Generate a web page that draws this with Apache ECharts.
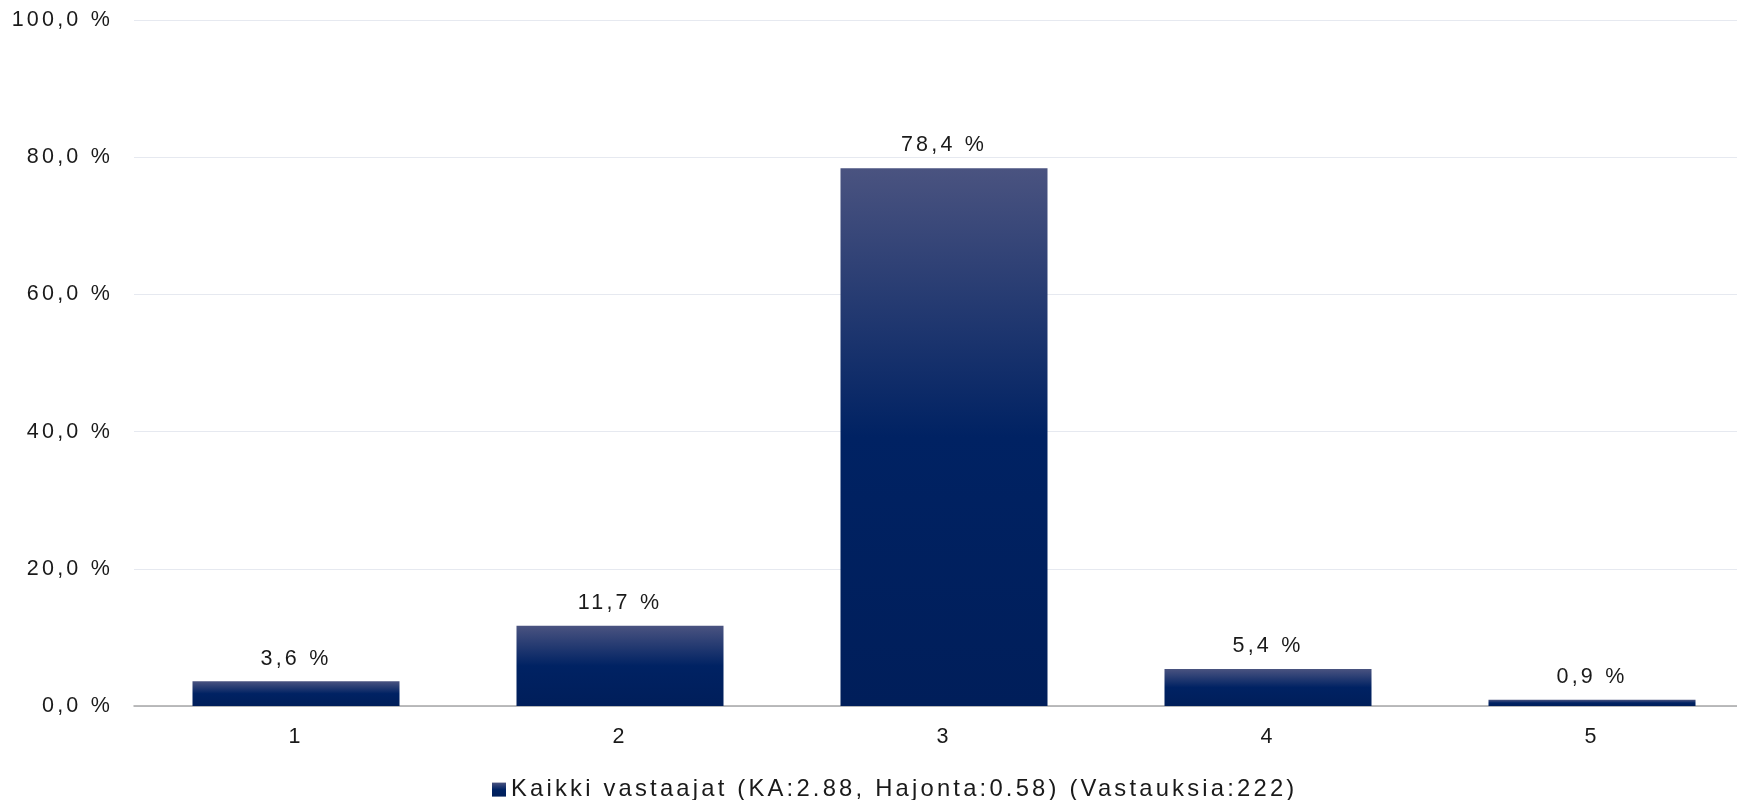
<!DOCTYPE html>
<html>
<head>
<meta charset="utf-8">
<script src="https://cdn.jsdelivr.net/npm/echarts@6/dist/echarts.min.js"></script>
<style>
html,body{margin:0;padding:0;background:#fff;}
#chart{width:1737px;height:800px;}
</style>
</head>
<body>
<div id="chart"></div>
<script>
// letter spacing for canvas text (applied consistently to measuring and drawing)
(function(){
  var P = CanvasRenderingContext2D.prototype;
  var LS = '3.2px';
  var of = P.fillText, om = P.measureText;
  P.fillText = function(){ try{ this.letterSpacing = LS; }catch(e){} return of.apply(this, arguments); };
  P.measureText = function(){ try{ this.letterSpacing = LS; }catch(e){} return om.apply(this, arguments); };
})();

var categories = ['1', '2', '3', '4', '5'];
var values = [3.6, 11.7, 78.4, 5.4, 0.9];
var seriesName = 'Kaikki vastaajat (KA:2.88, Hajonta:0.58) (Vastauksia:222)';
var yTicks = [0, 20, 40, 60, 80, 100];

function fmt(v){ return v.toFixed(1).replace('.', ',') + ' %'; }

var FONT = 'Liberation Sans';
var chart = echarts.init(document.getElementById('chart'), null, {renderer:'canvas'});
chart.setOption({
  animation: false,
  backgroundColor: '#ffffff',
  textStyle: { fontFamily: FONT },
  legend: {
    data: [seriesName],
    left: 487,
    top: 771,
    itemWidth: 14,
    itemHeight: 14,
    itemGap: 10,
    icon: 'rect',
    textStyle: { fontFamily: FONT, fontSize: 23.8, color: '#1a1a1a' }
  },
  grid: { left: 134, width: 1620, top: 20, bottom: 94, containLabel: false, outerBoundsMode: 'none' },
  xAxis: {
    type: 'category',
    data: categories,
    axisTick: { show: false },
    axisLine: { lineStyle: { color: '#a6a6a6', width: 1.5 } },
    axisLabel: { fontFamily: FONT, fontSize: 21.5, color: '#1a1a1a', margin: 18 }
  },
  yAxis: {
    type: 'value',
    min: yTicks[0],
    max: yTicks[yTicks.length - 1],
    interval: yTicks[1] - yTicks[0],
    axisLine: { show: false },
    axisTick: { show: false },
    splitLine: { lineStyle: { color: '#e6e9f0', width: 1 } },
    axisLabel: { fontFamily: FONT, fontSize: 21.5, color: '#1a1a1a', margin: 21, formatter: fmt }
  },
  series: [{
    name: seriesName,
    type: 'bar',
    data: values,
    barWidth: 207,
    itemStyle: {
      color: new echarts.graphic.LinearGradient(0, 0, 0, 1, [
        { offset: 0, color: '#4a5380' },
        { offset: 0.5, color: '#002263' },
        { offset: 1, color: '#001e5a' }
      ])
    },
    label: {
      show: true,
      position: 'top',
      distance: 10,
      fontFamily: FONT,
      fontSize: 21.5,
      color: '#1a1a1a',
      formatter: function(p){ return fmt(p.value); }
    }
  }]
});
</script>
</body>
</html>
